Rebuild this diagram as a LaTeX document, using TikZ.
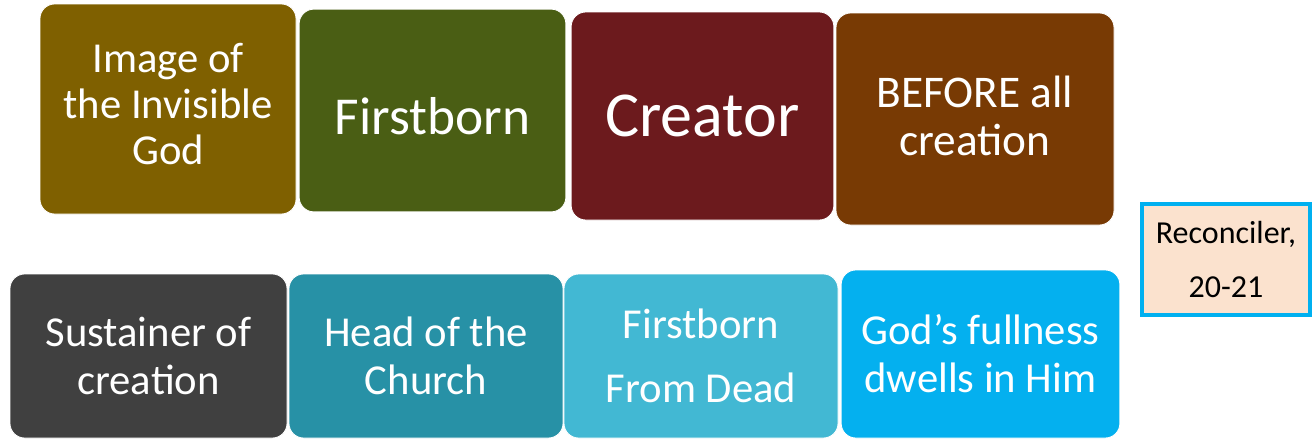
\documentclass[tikz,border=0pt]{standalone}
\usepackage{fontspec}
\setmainfont{Carlito}
\definecolor{cA}{HTML}{7F6000}
\definecolor{cB}{HTML}{4A5E14}
\definecolor{cC}{HTML}{6C1A1D}
\definecolor{cD}{HTML}{783A04}
\definecolor{cE}{HTML}{404040}
\definecolor{cF}{HTML}{2791A6}
\definecolor{cG}{HTML}{42B8D3}
\definecolor{cH}{HTML}{04B0EF}
\definecolor{recfill}{HTML}{FBE2CE}
\definecolor{recline}{HTML}{00B0F0}
\begin{document}
\begin{tikzpicture}[x=0.75pt,y=-0.75pt]
\tikzset{
  tile/.style={rounded corners=11pt, draw=white, line width=0.6pt, text=white, align=center, inner sep=0pt, font=\fontsize{32}{36}\selectfont},
}
\useasboundingbox (0,0) rectangle (1312,439);
\fill[white] (0,0) rectangle (1312,439);
\node[tile, fill=cA, minimum width=192pt, minimum height=157.5pt, font=\fontsize{32}{34.5}\selectfont, text depth=7.5pt] (b1) at (168,109) {Image of\\the Invisible\\God};
\node[tile, fill=cB, minimum width=200pt, minimum height=152pt, font=\fontsize{40}{44}\selectfont, text height=37pt] (b2) at (432.5,110.5) {Firstborn};
\node[tile, fill=cC, minimum width=197pt, minimum height=156pt, font=\fontsize{48}{52}\selectfont] (b3) at (702.5,116) {Creator};
\node[tile, fill=cD, minimum width=208.5pt, minimum height=159pt, font=\fontsize{34}{36}\selectfont, text depth=4.5pt] (b4) at (975,119) {BEFORE all\\creation};
\node[tile, fill=cE, minimum width=207.75pt, minimum height=123pt] (b5) at (148.5,356) {Sustainer of\\creation};
\node[tile, fill=cF, minimum width=205.5pt, minimum height=123pt] (b6) at (426,356) {Head of the\\Church};
\node[tile, fill=cG, minimum width=205.5pt, minimum height=123pt, font=\fontsize{32}{48}\selectfont] (b7) at (701,356) {Firstborn\\From Dead};
\node[tile, fill=cH, minimum width=209pt, minimum height=126pt] (b8) at (980.5,354) {God’s fullness\\dwells in Him};
\node[draw=recline, fill=recfill, line width=3pt, align=center, inner sep=0pt, minimum width=126pt, minimum height=83.25pt, font=\fontsize{24}{40}\selectfont] (b9) at (1226,259.5) {Reconciler,\\20-21};
\end{tikzpicture}
\end{document}
